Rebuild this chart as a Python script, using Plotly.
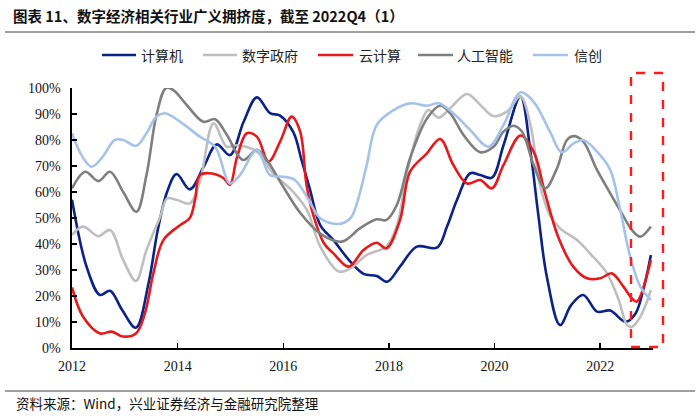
import plotly.graph_objects as go

# ---------------- data (decimal years, % crowding) ----------------
jsj_x = [2012.00, 2012.28, 2012.53, 2012.72, 2012.95, 2013.21, 2013.45, 2013.62, 2013.80, 2013.98,
         2014.23, 2014.50, 2014.74, 2014.99, 2015.25, 2015.50, 2015.75, 2015.94, 2016.19, 2016.35,
         2016.50, 2016.70, 2016.95, 2017.27, 2017.52, 2017.77, 2017.97, 2018.21, 2018.53, 2018.91,
         2019.10, 2019.29, 2019.54, 2019.73, 2019.95, 2020.17, 2020.49, 2020.68, 2020.83, 2020.99,
         2021.24, 2021.45, 2021.68, 2021.94, 2022.19, 2022.48, 2022.67, 2022.83, 2022.96]
jsj_y = [57, 31, 20.4, 22, 14.6, 7.8, 25, 45, 60, 66.9,
         61, 70, 78.3, 74.2, 87, 96.4, 90.3, 89.4, 83, 72,
         61.4, 47.3, 41.5, 33.2, 28.5, 27.7, 25.5, 31.3, 39, 38.6,
         46.7, 57, 67.2, 66.5, 65.5, 78, 96.7, 75.5, 51, 27.4,
         8.8, 16.5, 20.4, 14, 14.4, 10.1, 13.3, 23.6, 35.8]

szzf_x = [2012.00, 2012.21, 2012.50, 2012.72, 2012.97, 2013.21, 2013.41, 2013.67, 2013.80, 2013.98,
          2014.23, 2014.42, 2014.68, 2014.93, 2015.12, 2015.50, 2015.81, 2016.19, 2016.45, 2016.70,
          2017.05, 2017.27, 2017.58, 2017.95, 2018.15, 2018.35, 2018.59, 2018.75, 2018.94, 2019.16,
          2019.48, 2019.73, 2019.98, 2020.24, 2020.49, 2020.68, 2020.86, 2021.05, 2021.24, 2021.56,
          2021.87, 2022.13, 2022.35, 2022.51, 2022.60, 2022.76, 2022.96]
szzf_y = [43.5, 46.7, 43, 45.4, 33.8, 25.8, 37.7, 50.5, 57.5, 57,
          55.6, 64, 86.4, 77.4, 78, 75.5, 67.2, 60, 53, 39,
          29.4, 30.6, 35.8, 39, 47, 68, 85.8, 91.5, 88.6, 92.2,
          97.7, 93.5, 89.2, 91, 96.7, 85.8, 62.7, 51, 46, 41.5,
          35, 28.7, 18.5, 8.8, 8.2, 12, 22.3]

yjs_x = [2012.00, 2012.21, 2012.53, 2012.75, 2012.97, 2013.21, 2013.38, 2013.54, 2013.73, 2014.05,
         2014.23, 2014.33, 2014.42, 2014.61, 2014.87, 2014.99, 2015.12, 2015.31, 2015.50, 2015.72,
         2015.94, 2016.16, 2016.32, 2016.44, 2016.57, 2016.77, 2016.95, 2017.24, 2017.52, 2017.77,
         2017.95, 2018.21, 2018.40, 2018.72, 2018.97, 2019.22, 2019.48, 2019.73, 2019.95, 2020.17,
         2020.49, 2020.74, 2020.95, 2021.20, 2021.49, 2021.75, 2022.00, 2022.22, 2022.44, 2022.60,
         2022.69, 2022.96]
yjs_y = [23.3, 12, 5.6, 6.3, 4.4, 5.6, 13.3, 28.7, 41.5, 47.3,
         50, 57, 66.5, 67.2, 65.3, 62.7, 73, 82.6, 81.3, 71.7,
         79.4, 89, 83.2, 62.7, 51, 40.3, 36.4, 31.3, 37.7, 40.5,
         38.3, 49.2, 67.8, 74.9, 80.4, 70.4, 63.3, 64.6, 61.4, 70.4,
         81.7, 75.5, 60, 43, 31.3, 26.8, 26.8, 28.7, 23.6, 19.1,
         17.8, 33.8]

rgzn_x = [2012.00, 2012.25, 2012.50, 2012.72, 2012.97, 2013.22, 2013.41, 2013.60, 2013.78, 2013.92,
          2014.17, 2014.49, 2014.71, 2014.93, 2015.24, 2015.50, 2015.69, 2015.94, 2016.32, 2016.70,
          2017.11, 2017.45, 2017.77, 2017.95, 2018.15, 2018.40, 2018.72, 2018.97, 2019.16, 2019.41,
          2019.73, 2019.98, 2020.17, 2020.36, 2020.52, 2020.74, 2020.96, 2021.18, 2021.37, 2021.50,
          2021.68, 2021.94, 2022.19, 2022.41, 2022.60, 2022.76, 2022.96]
rgzn_y = [61.4, 67.8, 64.2, 67.8, 60, 52.4, 66.5, 89.6, 100, 99.2,
          93.5, 87, 88, 82, 72.3, 76.2, 72.3, 64, 52, 44,
          40.9, 46, 49.5, 49.2, 55, 73, 88.3, 93.2, 90.3, 82,
          75.3, 77.4, 83.2, 85.5, 83.2, 70.4, 61.4, 69, 80, 81.5,
          79.4, 68.5, 59.5, 51.8, 45.4, 42.8, 46.7]

xc_x = [2012.00, 2012.18, 2012.37, 2012.56, 2012.81, 2012.97, 2013.22, 2013.41, 2013.60, 2013.76,
        2014.05, 2014.42, 2014.71, 2014.99, 2015.18, 2015.50, 2015.75, 2016.00, 2016.22, 2016.48,
        2016.70, 2017.05, 2017.27, 2017.40, 2017.58, 2017.77, 2018.09, 2018.40, 2018.72, 2018.94,
        2019.22, 2019.54, 2019.89, 2020.17, 2020.49, 2020.74, 2021.05, 2021.27, 2021.50, 2021.68,
        2021.94, 2022.19, 2022.38, 2022.57, 2022.76, 2022.96]
xc_y = [82.6, 74.2, 69.7, 73, 80, 80, 77.8, 82.6, 89, 90.3,
        87, 81.3, 77.4, 63.3, 66.5, 76.2, 66.5, 65.9, 64.6, 57,
        49.9, 47.7, 49.9, 56, 70.4, 85.8, 91.5, 94.1, 93.2, 94.1,
        90.3, 83.8, 77.4, 85.8, 98.3, 94.7, 83.2, 75.3, 78.7, 80,
        75.5, 68.5, 53, 35, 23.6, 18.5]

series_names = ["计算机", "数字政府", "云计算", "人工智能", "信创"]
series_colors = ["#0B2287", "#BFBFBF", "#E8191C", "#7F7F7F", "#A7C2E8"]
series_x = [jsj_x, szzf_x, yjs_x, rgzn_x, xc_x]
series_y = [jsj_y, szzf_y, yjs_y, rgzn_y, xc_y]

y_ticks = list(range(0, 101, 10))
x_ticks = [2012, 2014, 2016, 2018, 2020, 2022]

title_text = "图表 11、数字经济相关行业广义拥挤度，截至 2022Q4（1）"
source_text = "资料来源：Wind，兴业证券经济与金融研究院整理"

# ---------------- layout helpers ----------------
W, H = 700, 418
L, R, T, B = 72, 47, 88, 70
PW, PH = W - L - R, H - T - B


def px(x):
    return (x - L) / PW


def py(y):
    return (H - B - y) / PH


CJK = "Noto Sans CJK SC"
SERIF = "Liberation Serif"

fig = go.Figure()
for name, col, xs, ys in zip(series_names, series_colors, series_x, series_y):
    fig.add_trace(go.Scatter(x=xs, y=ys, name=name, mode="lines",
                             line=dict(color=col, width=2.6, shape="spline", smoothing=1.0),
                             showlegend=False, hoverinfo="skip"))

shapes = []
annotations = []

# title + rule
annotations.append(dict(x=px(11), y=py(15), xref="paper", yref="paper", xanchor="left",
                        yanchor="middle", showarrow=False, text="<b>" + title_text + "</b>",
                        font=dict(family=CJK, size=14.5, color="#111111")))
shapes.append(dict(type="line", xref="paper", yref="paper", x0=px(5), x1=px(695),
                   y0=py(32), y1=py(32), line=dict(color="#808080", width=1.5)))

# footer rule + source
shapes.append(dict(type="line", xref="paper", yref="paper", x0=px(5), x1=px(695),
                   y0=py(391), y1=py(391), line=dict(color="#808080", width=1.5)))
annotations.append(dict(x=px(14), y=py(403), xref="paper", yref="paper", xanchor="left",
                        yanchor="middle", showarrow=False, text=source_text,
                        font=dict(family=CJK, size=13.5, color="#111111")))

# manual legend
leg_line_x = [(102, 136), (203, 237), (318, 353), (418, 453), (533, 568)]
leg_text_x = [139, 240, 357, 455, 572]
leg_y = 55
for (a, b), tx, name, col in zip(leg_line_x, leg_text_x, series_names, series_colors):
    shapes.append(dict(type="line", xref="paper", yref="paper", x0=px(a), x1=px(b),
                       y0=py(leg_y), y1=py(leg_y), line=dict(color=col, width=2.6)))
    annotations.append(dict(x=px(tx), y=py(leg_y), xref="paper", yref="paper", xanchor="left",
                            yanchor="middle", showarrow=False, text=name,
                            font=dict(family=CJK, size=14, color="#222222")))

# red dashed highlight box
shapes.append(dict(type="rect", xref="paper", yref="paper", x0=px(631), x1=px(663),
                   y0=py(347), y1=py(73), line=dict(color="#FF1A1A", width=2.4, dash="dash"),
                   fillcolor="rgba(0,0,0,0)"))

fig.update_layout(
    width=W, height=H,
    margin=dict(l=L, r=R, t=T, b=B),
    plot_bgcolor="white", paper_bgcolor="white",
    shapes=shapes, annotations=annotations,
    xaxis=dict(range=[2012, 2023], tickvals=x_ticks, ticktext=[str(v) for v in x_ticks],
               showgrid=False, zeroline=False, showline=True, linecolor="black", linewidth=1.6,
               ticks="inside", ticklen=5, tickwidth=1.5, tickcolor="black",
               tickfont=dict(family=SERIF, size=14, color="#111111"), ticklabelstandoff=5),
    yaxis=dict(range=[0, 100], tickvals=y_ticks, ticktext=[f"{v}%" for v in y_ticks],
               showgrid=False, zeroline=False, showline=True, linecolor="black", linewidth=1.6,
               ticks="inside", ticklen=5, tickwidth=1.5, tickcolor="black",
               tickfont=dict(family=SERIF, size=14, color="#111111"), ticklabelstandoff=7),
)

fig.write_html("out.html",
               config={"displayModeBar": False, "staticPlot": True},
               post_script="document.body.style.margin='0';document.body.style.padding='0';"
                           "document.documentElement.style.overflow='hidden';")
